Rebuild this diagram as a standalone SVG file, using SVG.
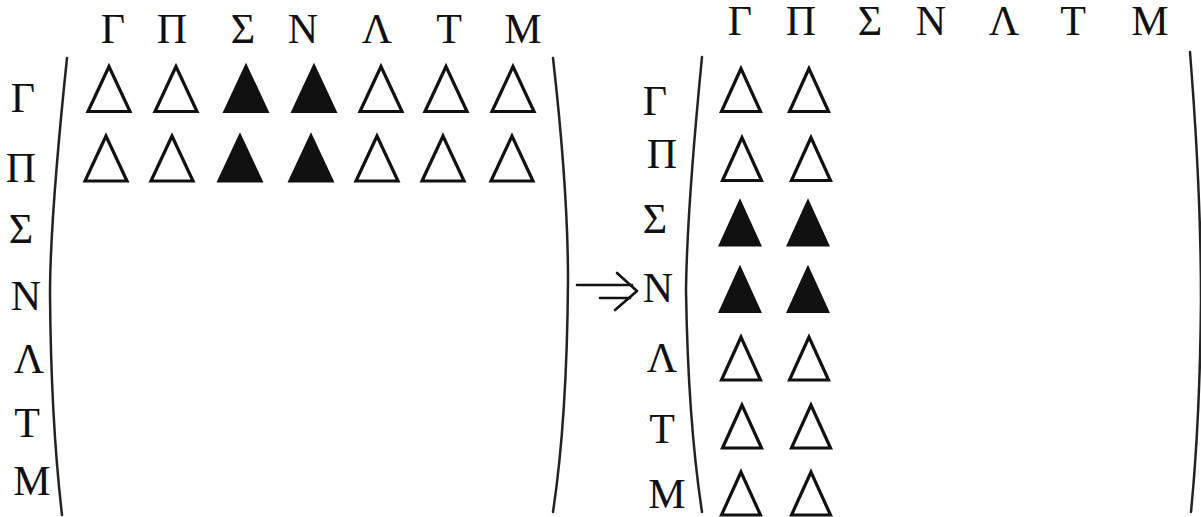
<svg xmlns="http://www.w3.org/2000/svg" width="1201" height="517" viewBox="0 0 1201 517">
<style>
text{font-family:"Liberation Serif","Times New Roman",serif;font-size:42px;fill:#111;text-anchor:middle}
.o{fill:#fff;stroke:#111;stroke-width:3.2;stroke-linejoin:miter}
.f{fill:#111;stroke:#111;stroke-width:3.2;stroke-linejoin:miter}
.br{fill:none;stroke:#222;stroke-width:2.5;stroke-linecap:round}
.ar{fill:none;stroke:#111;stroke-width:2.6;stroke-linecap:round;stroke-linejoin:round}
</style>
<defs>
<path id="tL" d="M0,-21.5 L-21,23.5 L21,23.5 Z"/>
<path id="tR" d="M0,-20.5 L-19.5,22.5 L19.5,22.5 Z"/>
</defs>
<rect width="1201" height="517" fill="#fff"/>

<g id="left-matrix">
  <g id="left-col-headers">
    <text x="113" y="43">Γ</text>
    <text x="172" y="43">Π</text>
    <text x="243" y="43">Σ</text>
    <text x="303" y="43">N</text>
    <text x="377" y="43">Λ</text>
    <text x="449" y="43">T</text>
    <text x="523" y="43">M</text>
  </g>
  <g id="left-row-headers">
    <text x="23" y="112">Γ</text>
    <text x="21" y="182">Π</text>
    <text x="21" y="243">Σ</text>
    <text x="26" y="310">N</text>
    <text x="29" y="373">Λ</text>
    <text x="27" y="437">T</text>
    <text x="32" y="495">M</text>
  </g>
  <g id="left-brackets">
    <path class="br" d="M67,58 Q50,220 50,295 Q51,420 62,515"/>
    <path class="br" d="M553,58 Q568,190 568,280 Q567,420 553,512"/>
  </g>
  <g id="left-row-G">
    <use href="#tL" class="o" x="109" y="88"/>
    <use href="#tL" class="o" x="176" y="88"/>
    <use href="#tL" class="f" x="246" y="88"/>
    <use href="#tL" class="f" x="314" y="88"/>
    <use href="#tL" class="o" x="381" y="88"/>
    <use href="#tL" class="o" x="446" y="88"/>
    <use href="#tL" class="o" x="513" y="88"/>
  </g>
  <g id="left-row-P">
    <use href="#tL" class="o" x="106" y="157.5"/>
    <use href="#tL" class="o" x="172" y="157.5"/>
    <use href="#tL" class="f" x="240" y="157.5"/>
    <use href="#tL" class="f" x="311" y="157.5"/>
    <use href="#tL" class="o" x="377" y="157.5"/>
    <use href="#tL" class="o" x="443" y="157.5"/>
    <use href="#tL" class="o" x="512" y="157.5"/>
  </g>
</g>

<g id="connectors">
  <path class="ar" d="M577,285 L632,285"/>
  <path class="ar" d="M600,298 L630,298"/>
  <path class="ar" d="M617,273 L637,291 L615,310"/>
</g>

<g id="right-matrix">
  <g id="right-col-headers">
    <text x="740" y="35">Γ</text>
    <text x="801" y="35">Π</text>
    <text x="870" y="35">Σ</text>
    <text x="931" y="35">N</text>
    <text x="1004" y="35">Λ</text>
    <text x="1073" y="35">T</text>
    <text x="1150" y="35">M</text>
  </g>
  <g id="right-row-headers">
    <text x="655" y="115">Γ</text>
    <text x="662" y="168">Π</text>
    <text x="655" y="233">Σ</text>
    <text x="658" y="302">N</text>
    <text x="662" y="372">Λ</text>
    <text x="662" y="443">T</text>
    <text x="667" y="508">M</text>
  </g>
  <g id="right-brackets">
    <path class="br" d="M702,57 Q687,210 686,290 Q688,420 702,512"/>
    <path class="br" d="M1190,52 Q1201,190 1201,300 Q1200,420 1191,512"/>
  </g>
  <g id="right-cells">
    <use href="#tR" class="o" x="741" y="89"/>
    <use href="#tR" class="o" x="809" y="89"/>
    <use href="#tR" class="o" x="742" y="158"/>
    <use href="#tR" class="o" x="811" y="158"/>
    <use href="#tR" class="f" x="740" y="222.5"/>
    <use href="#tR" class="f" x="808" y="222.5"/>
    <use href="#tR" class="f" x="740" y="289"/>
    <use href="#tR" class="f" x="808" y="289"/>
    <use href="#tR" class="o" x="741" y="357.5"/>
    <use href="#tR" class="o" x="809" y="357.5"/>
    <use href="#tR" class="o" x="742" y="425.5"/>
    <use href="#tR" class="o" x="811" y="425.5"/>
    <use href="#tR" class="o" x="741" y="492.5"/>
    <use href="#tR" class="o" x="811" y="492.5"/>
  </g>
</g>
</svg>
